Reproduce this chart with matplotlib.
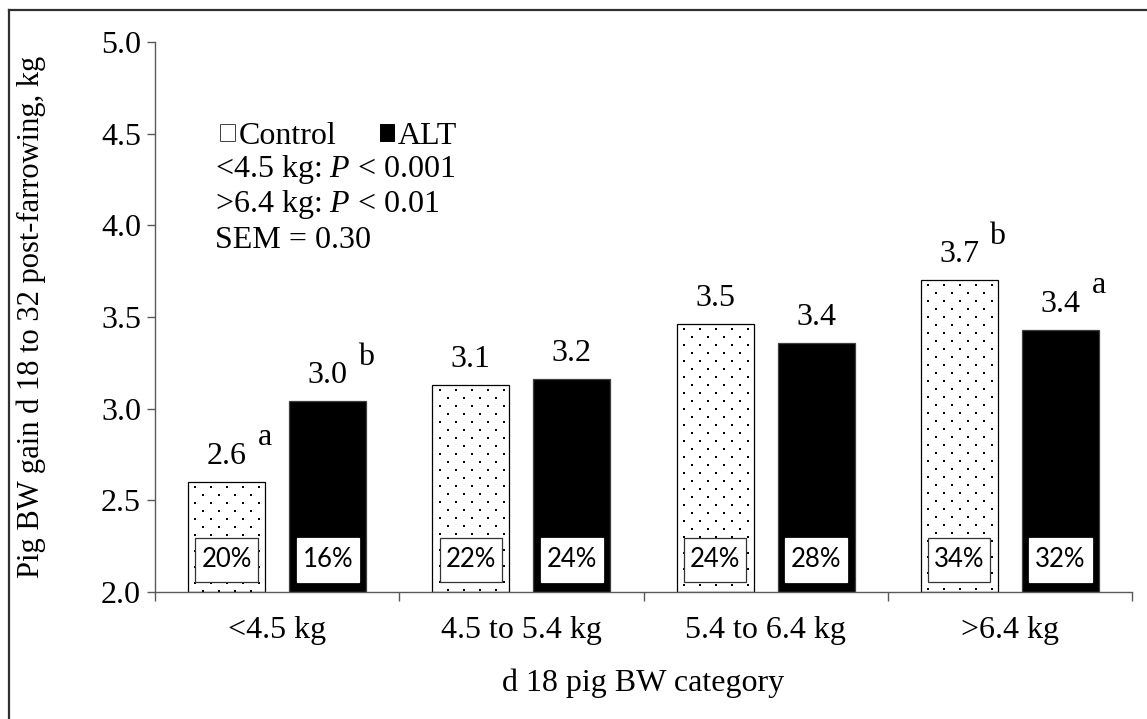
import matplotlib
matplotlib.use("Agg")
import matplotlib.pyplot as plt
from matplotlib.patches import Rectangle, Patch
from matplotlib.lines import Line2D
import numpy as np

# ---------------- data ----------------
categories = ["<4.5 kg", "4.5 to 5.4 kg", "5.4 to 6.4 kg", ">6.4 kg"]
control = [2.60, 3.13, 3.46, 3.70]
alt = [3.04, 3.16, 3.36, 3.43]
control_pct = ["20%", "22%", "24%", "34%"]
alt_pct = ["16%", "24%", "28%", "32%"]
control_sup = ["a", "", "", "b"]
alt_sup = ["b", "", "", "a"]
yticks = [2.0, 2.5, 3.0, 3.5, 4.0, 4.5, 5.0]
stats_lines = ["<4.5 kg: $P$ < 0.001", ">6.4 kg: $P$ < 0.01", "SEM = 0.30"]

# ---------------- style ----------------
plt.rcParams["font.family"] = ["Liberation Serif", "DejaVu Serif"]
plt.rcParams["mathtext.fontset"] = "custom"
plt.rcParams["mathtext.rm"] = "Liberation Serif"
plt.rcParams["mathtext.it"] = "Liberation Serif:italic"
FS = 23
AXC = "#595959"

fig = plt.figure(figsize=(11.47, 7.19), dpi=100)
ax = fig.add_axes([155 / 1147, 1 - 592 / 719, 977 / 1147, 550 / 719])

# outer border (top & left visible, cut off at right/bottom)
fig.add_artist(Line2D([9 / 1147, 1.0], [1 - 10 / 719, 1 - 10 / 719],
                      transform=fig.transFigure, color="#303030", lw=1.6))
fig.add_artist(Line2D([9 / 1147, 9 / 1147], [0.0, 1 - 10 / 719],
                      transform=fig.transFigure, color="#303030", lw=1.6))

x = np.arange(len(categories))
w = 0.315
off = 0.207
ax.set_xlim(-0.5, len(categories) - 0.5)
ax.set_ylim(2.0, 5.0)

bars_c = ax.bar(x - off, [v - 2.0 for v in control], w, bottom=2.0,
                color="white", edgecolor="black", lw=0.9, zorder=2)
bars_a = ax.bar(x + off, [v - 2.0 for v in alt], w, bottom=2.0,
                color="black", edgecolor="#404040", lw=0.9, zorder=2)

# dotted texture for Control bars
px_x = 977 / (len(categories))   # pixels per x unit
px_y = 550 / 3.0                 # pixels per y unit
dx = 16 / px_x
dy = 8 / px_y
for r in bars_c:
    left = r.get_x()
    right = left + r.get_width()
    top = r.get_y() + r.get_height()
    xs_all, ys_all = [], []
    ys = np.arange(top - dy * 0.6, 2.0, -dy)
    for i, yy in enumerate(ys):
        start = left + dx * 0.45 + (dx / 2 if i % 2 else 0)
        xs = np.arange(start, right, dx)
        xs_all.extend(xs)
        ys_all.extend([yy] * len(xs))
    sc = ax.scatter(xs_all, ys_all, s=2.4, marker="s", color="black",
                    lw=0, zorder=3)
    sc.set_clip_path(r)

# percentage boxes
bw = 0.255
for bars, pcts, ec in ((bars_c, control_pct, "#333333"), (bars_a, alt_pct, "white")):
    for r, p in zip(bars, pcts):
        cx = r.get_x() + r.get_width() / 2
        ax.add_patch(Rectangle((cx - bw / 2, 2.055), bw, 0.24, facecolor="white",
                               edgecolor=ec, lw=0.9, zorder=4))
        ax.text(cx, 2.055 + 0.12, p, ha="center", va="center", fontsize=18.5,
                family=["Lato", "DejaVu Sans"], color="black", zorder=5)

# value labels and superscripts
for bars, vals, sups in ((bars_c, control, control_sup), (bars_a, alt, alt_sup)):
    for r, v, s in zip(bars, vals, sups):
        cx = r.get_x() + r.get_width() / 2
        ax.annotate(f"{v:.1f}", (cx, v), xytext=(0, 13), textcoords="offset points",
                    ha="center", va="baseline", fontsize=FS)
        if s:
            ax.annotate(s, (cx, v), xytext=(27.5, 26.5), textcoords="offset points",
                        ha="center", va="baseline", fontsize=FS)

# axes styling
for sp in ("top", "right"):
    ax.spines[sp].set_visible(False)
for sp in ("left", "bottom"):
    ax.spines[sp].set_color(AXC)
    ax.spines[sp].set_linewidth(1.0)

ax.set_yticks(yticks)
ax.set_yticklabels([f"{t:.1f}" for t in yticks], fontsize=FS)
ax.tick_params(axis="y", direction="out", length=6, width=1.0, color=AXC, pad=4)

ax.set_xticks(x)
ax.set_xticklabels(categories, fontsize=FS)
ax.tick_params(axis="x", which="major", length=0, pad=17)
ax.set_xticks(np.arange(-0.5, len(categories), 1.0), minor=True)
ax.tick_params(axis="x", which="minor", direction="out", length=6.5, width=1.0, color=AXC)

ax.set_xlabel("d 18 pig BW category", fontsize=FS)
ax.xaxis.set_label_coords(0.5, (592 - 683) / 550)
ax.xaxis.label.set_va("center")
ax.set_ylabel("Pig BW gain d 18 to 32 post-farrowing, kg", fontsize=22)
ax.yaxis.set_label_coords((31 - 155) / 977, 0.5)
ax.yaxis.label.set_va("center")

# legend
handles = [Patch(facecolor="white", edgecolor="#404040", lw=0.7, label="Control"),
           Patch(facecolor="black", edgecolor="black", lw=0.7, label="ALT")]
ax.legend(handles=handles, loc="center left", bbox_to_anchor=(0.067, 0.829),
          ncol=2, frameon=False, fontsize=FS, handlelength=0.45, handleheight=0.45,
          handletextpad=0.12, columnspacing=1.35, borderpad=0, borderaxespad=0)

# statistics text
for i, line in enumerate(stats_lines):
    ax.text((215 - 155) / 977, (592 - 169 - i * 35.5) / 550, line,
            transform=ax.transAxes, ha="left", va="center", fontsize=FS)

fig.savefig("out.png", dpi=100)
